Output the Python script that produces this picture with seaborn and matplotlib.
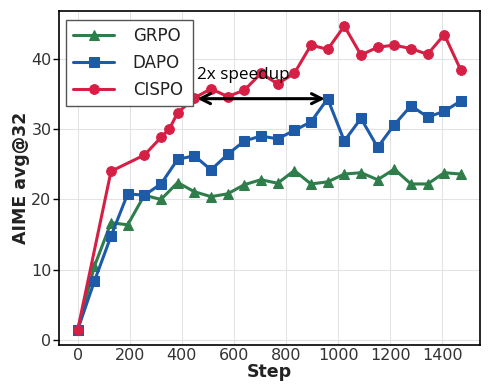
import numpy as np
import pandas as pd
import matplotlib
matplotlib.use("Agg")
import matplotlib.pyplot as plt
import seaborn as sns

grpo_steps = [0, 64, 128, 192, 256, 320, 384, 448, 512, 576, 640, 704, 768, 832, 896, 960,
              1024, 1088, 1152, 1216, 1280, 1344, 1408, 1472]
grpo_vals = [1.5, 10.5, 16.7, 16.4, 20.6, 20.0, 22.4, 21.1, 20.4, 20.8, 22.1, 22.8, 22.3, 24.1,
             22.2, 22.5, 23.6, 23.8, 22.8, 24.3, 22.2, 22.2, 23.8, 23.6]

dapo_steps = grpo_steps
dapo_vals = [1.5, 8.4, 14.8, 20.8, 20.6, 22.2, 25.7, 26.2, 24.2, 26.4, 28.3, 29.0, 28.6, 29.8,
             31.0, 34.3, 28.3, 31.5, 27.4, 30.6, 33.3, 31.7, 32.5, 34.0]

cispo_steps = [0, 128, 256, 320, 352, 384, 448, 512, 576, 640, 704, 768, 832, 896, 960, 1024,
               1088, 1152, 1216, 1280, 1344, 1408, 1472]
cispo_vals = [1.5, 24.0, 26.3, 28.8, 30.0, 32.3, 34.4, 35.7, 34.6, 35.5, 37.9, 36.4, 37.9, 41.9,
              41.3, 44.6, 40.5, 41.6, 41.9, 41.4, 40.6, 43.4, 38.3]

methods = ["GRPO", "DAPO", "CISPO"]
colors = ["#2E7D4B", "#1D5BA8", "#D61F45"]
markers = ["^", "s", "o"]

arrow_start, arrow_end, arrow_y = 448, 960, 34.3
note_text = "2x speedup"

df = pd.concat([
    pd.DataFrame({"Step": grpo_steps, "AIME": grpo_vals, "Method": "GRPO"}),
    pd.DataFrame({"Step": dapo_steps, "AIME": dapo_vals, "Method": "DAPO"}),
    pd.DataFrame({"Step": cispo_steps, "AIME": cispo_vals, "Method": "CISPO"}),
])

sns.set_theme(style="whitegrid")
plt.rcParams["font.family"] = ["DejaVu Sans"]

fig, ax = plt.subplots(figsize=(4.96, 3.89), dpi=100)
for m, c, mk in zip(methods, colors, markers):
    sub = df[df["Method"] == m]
    sns.lineplot(data=sub, x="Step", y="AIME", ax=ax, color=c, marker=mk, markersize=7,
                 linewidth=2.2, markeredgecolor=c, label=m)

ax.annotate("", xy=(arrow_end, arrow_y), xytext=(arrow_start, arrow_y),
            arrowprops=dict(arrowstyle="<->", color="black", lw=2.2, mutation_scale=18))
ax.text(arrow_start + 12, 37.1, note_text, fontsize=12.3, family="Open Sans", color="black")

ax.set_xticks([0, 200, 400, 600, 800, 1000, 1200, 1400])
ax.set_yticks([0, 10, 20, 30, 40])
ax.set_xlabel("Step", fontsize=12.5, fontweight="bold", color="#222222", labelpad=0)
ax.set_ylabel("AIME avg@32", fontsize=12.5, fontweight="bold", color="#222222", labelpad=1)
ax.tick_params(axis="both", labelsize=11.5, colors="#333333", width=1, pad=1)
ax.tick_params(axis="y", color="black", length=4, left=True)
ax.tick_params(axis="x", length=0, bottom=False, pad=2)
for s in ax.spines.values():
    s.set_color("black")
    s.set_linewidth(1.2)
ax.grid(color="#e3e3e3", linewidth=0.8)

leg = ax.legend(loc="upper left", fontsize=12, handlelength=2.5, frameon=True, fancybox=False,
                edgecolor="#555555", borderpad=0.4, labelspacing=0.55, handletextpad=1.1,
                borderaxespad=0.0, framealpha=1.0, mode="expand",
                bbox_to_anchor=(0.018, 0.0, 0.30, 0.973))
leg.get_frame().set_linewidth(1.0)
leg.set_zorder(5)
for t in leg.get_texts():
    t.set_color("#222222")

fig.subplots_adjust(left=0.118, right=0.968, top=0.972, bottom=0.113)
fig.savefig("out.png", dpi=100)
